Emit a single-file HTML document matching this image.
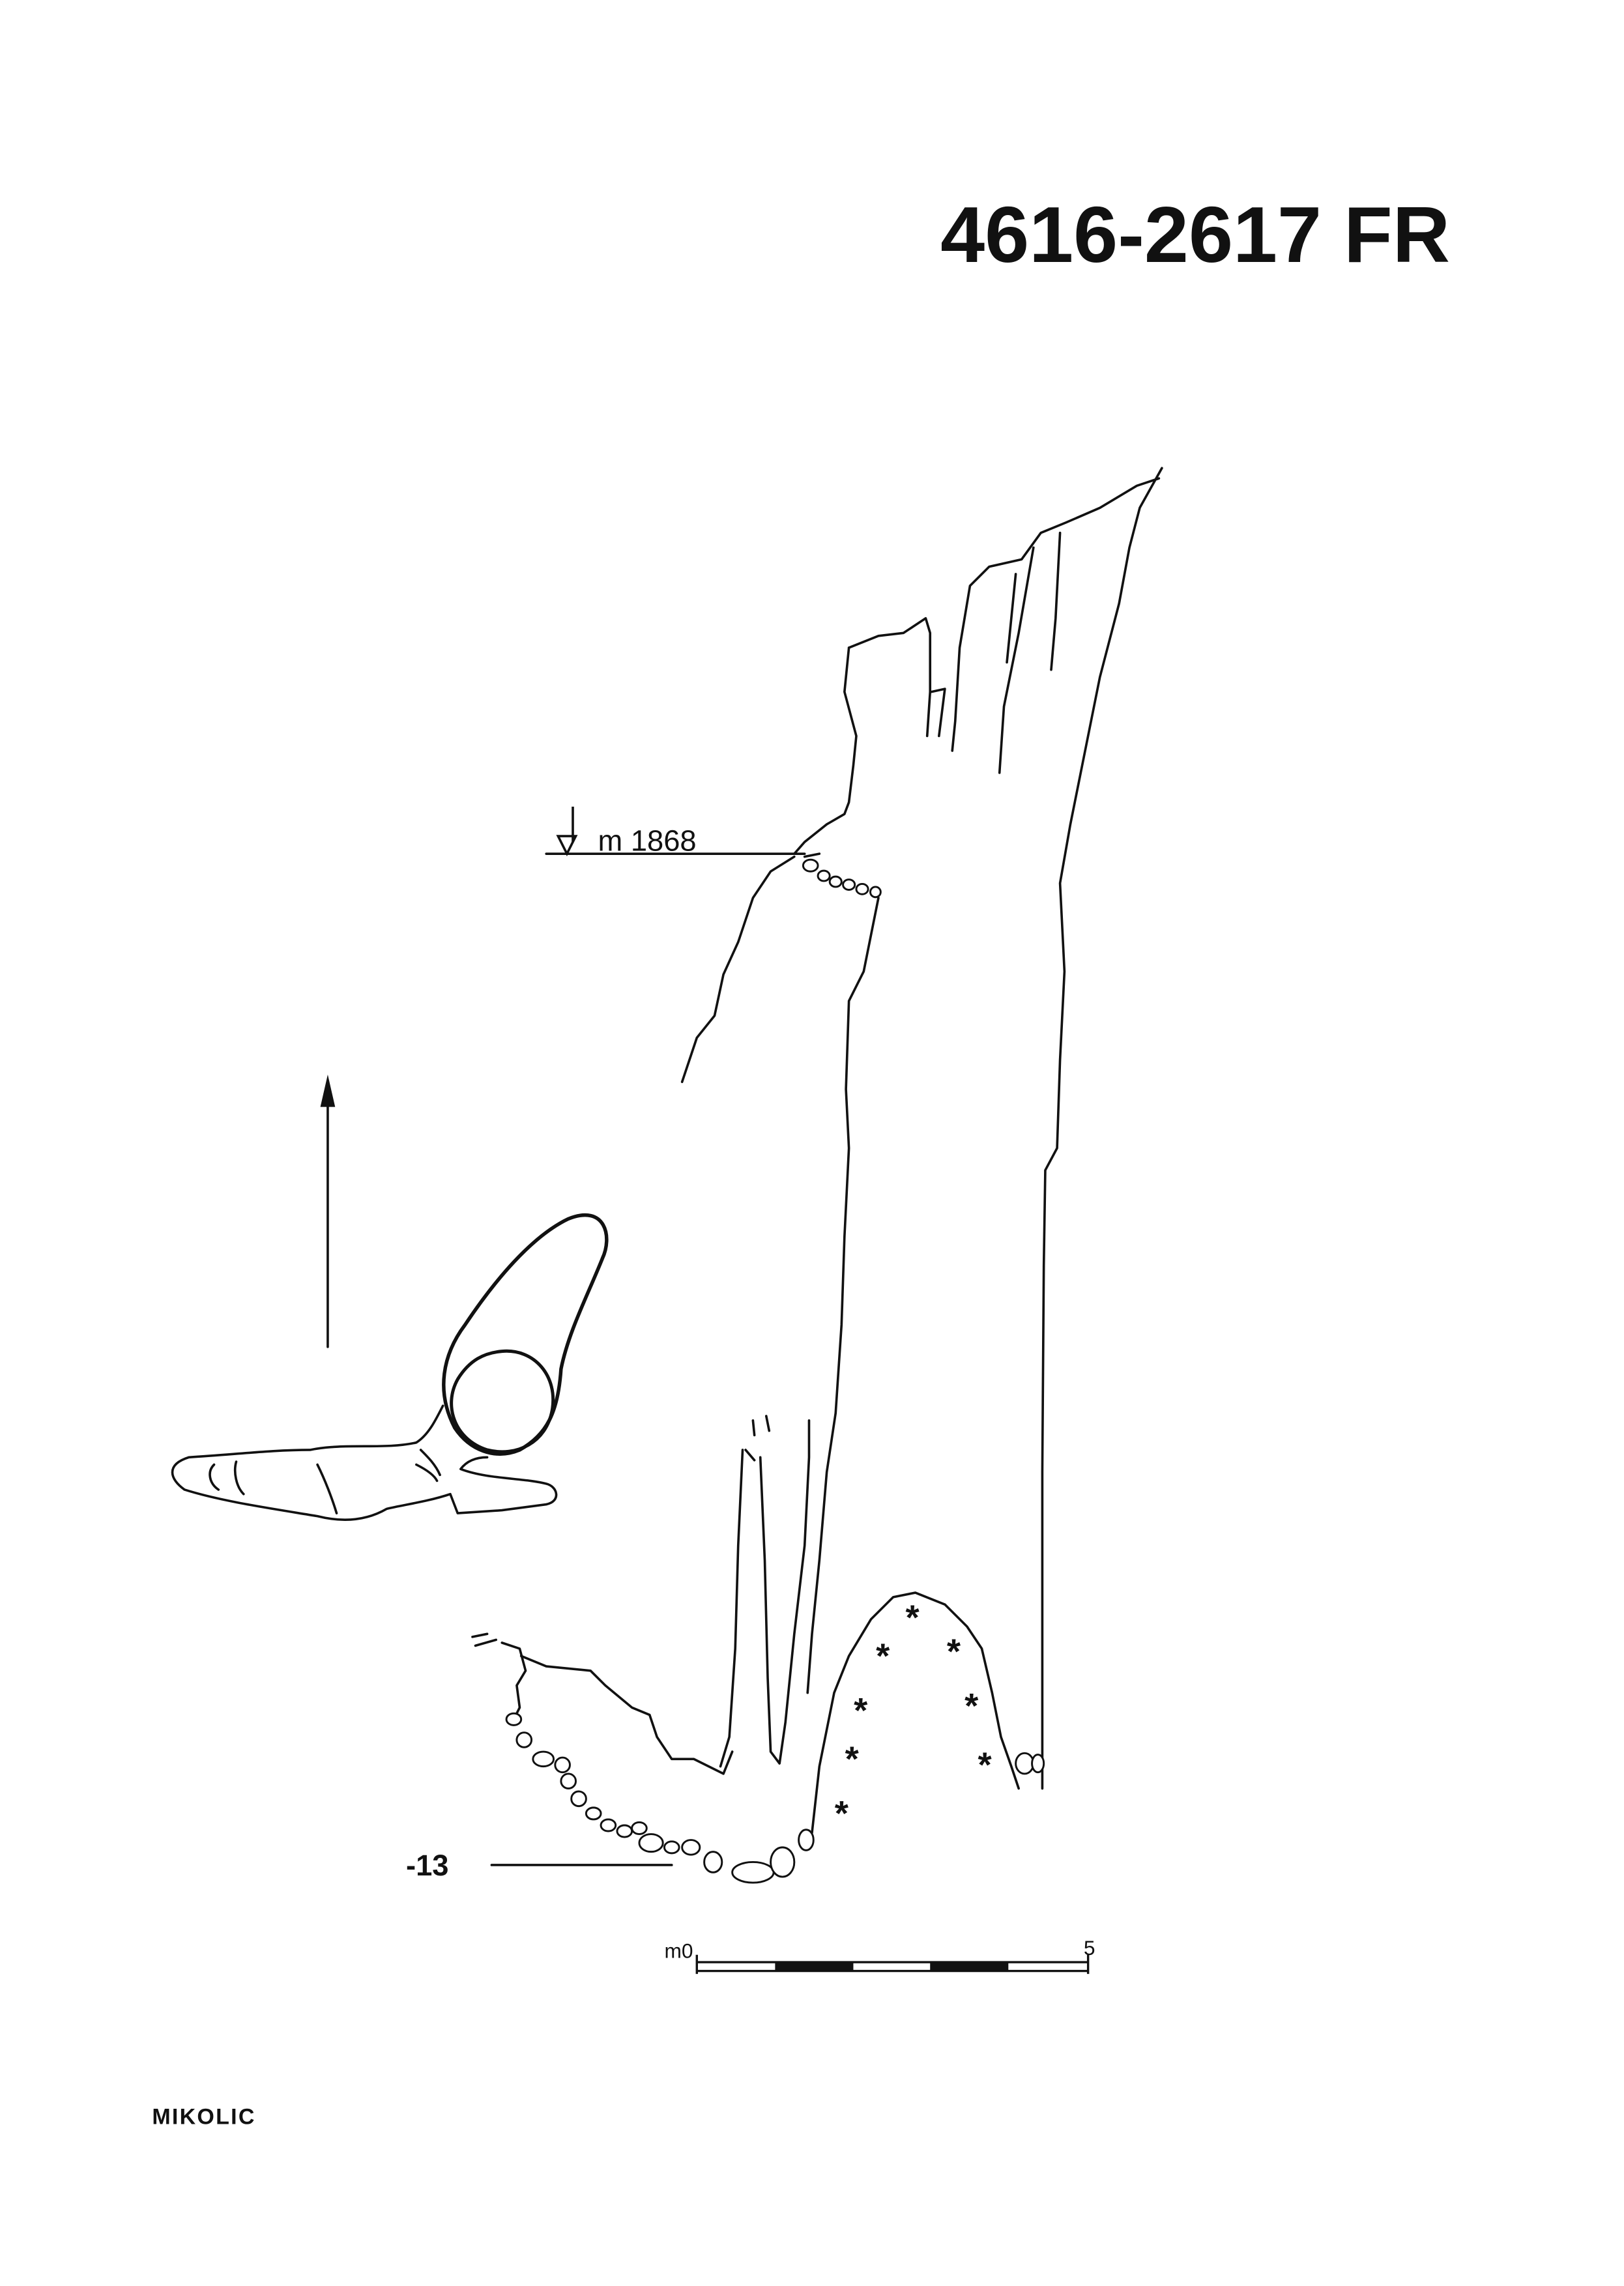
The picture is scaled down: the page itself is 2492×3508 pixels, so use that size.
<!DOCTYPE html>
<html><head><meta charset="utf-8"><style>
html,body{margin:0;padding:0;background:#fff;}
svg{display:block;}
</style></head><body>
<svg width="2492" height="3508" viewBox="0 0 1100 1553" preserveAspectRatio="none" xmlns="http://www.w3.org/2000/svg">
<rect width="1100" height="1553" fill="#fff"/>
<text x="637" y="178" font-family="Liberation Sans, sans-serif" font-weight="bold" font-size="54" fill="#111">4616-2617 FR</text>
<g fill="none" stroke="#111" stroke-width="1.6" stroke-linejoin="round" stroke-linecap="round">
<!-- top jagged -->
<path d="M787,318 L772,345 L765,372 L758,410 L745,460 L735,510 L725,560 L718,600 L721,660 L718,720 L716,780 L708,795 L707,860 L706,1000 L706,1215"/>
<path d="M785,325 L770,330 L745,345 L722,355 L705,362 L692,380 L670,385 L657,398 L650,440 L647,490 L645,510"/>
<path d="M718,362 L715,420 L712,455"/>
<path d="M700,372 L690,430 L680,480 L677,525"/>
<path d="M688,390 L682,450"/>
<path d="M575,440 L595,432 L612,430 L627,420 L630,430 L630,470 L628,500"/>
<path d="M631,470 L640,468 L636,500"/>
<path d="M575,440 L572,470 L580,500 L578,520 L575,545 L572,553 L560,560 L545,572 L538,580"/>
<!-- left wall of shaft -->
<path d="M538,582 L522,592 L510,610 L500,640 L490,662 L484,690 L472,705 L462,735"/>
<!-- middle wall -->
<path d="M595,610 L590,635 L585,660 L575,680 L573,740 L575,780 L572,840 L570,900 L566,960 L560,1000 L555,1060 L550,1110 L547,1150"/>
<!-- stalactites -->
<path d="M510,965 L511,975"/><path d="M519,962 L521,972"/>
<path d="M503,985 L500,1050 L498,1120 L494,1180 L488,1200"/>
<path d="M515,990 L518,1060 L520,1140 L522,1190 L528,1198 L532,1170 L538,1110 L545,1050 L548,990 L548,965"/>
<path d="M505,985 L511,992"/>
<!-- floor left -->
<path d="M320,1112 L330,1110"/><path d="M322,1118 L336,1114"/>
<path d="M340,1116 L352,1120 L356,1135 L350,1145 L352,1160 L348,1168"/>
<path d="M353,1125 L370,1132 L400,1135 L410,1145 L428,1160 L440,1165 L445,1180 L455,1195 L470,1195 L490,1205 L496,1190"/>
<!-- right boulder wall -->
<path d="M550,1245 L555,1200 L565,1150 L575,1125 L590,1100 L605,1085 L620,1082 L640,1090 L655,1105 L665,1120 L672,1150 L678,1180 L685,1200 L690,1215"/>
<path d="M545,582 L555,580"/>
<!-- marker lines -->
<path d="M370,580 L545,580"/>
<path d="M333,1267 L455,1267"/>
<!-- north arrow -->
<path d="M222,915 L222,745"/>
<!-- plan -->
<path d="M308,970 C295,945 300,920 315,900 C335,870 360,840 385,828 C410,818 415,840 408,855 C398,880 385,905 380,930 C378,960 370,975 352,985 C335,992 318,985 308,970 Z" stroke-width="2.4"/>
<path d="M340,918 C362,916 378,935 374,958 C370,980 350,990 330,985 C308,978 300,955 310,937 C318,924 328,919 340,918 Z" stroke-width="2.2"/>
<path d="M300,955 C295,965 290,975 282,980 C260,985 235,980 210,985 C185,985 160,988 128,990 C112,995 115,1005 125,1012 C150,1020 185,1025 215,1030 C235,1035 250,1032 262,1025 C275,1022 290,1020 305,1015 L310,1028 L340,1026 L370,1022 C380,1020 378,1010 370,1008 C355,1004 330,1005 312,998 C315,994 320,990 330,990"/>
<path d="M145,995 C140,1000 142,1008 148,1012"/><path d="M160,993 C158,1000 160,1010 165,1015"/>
<path d="M215,995 C220,1005 225,1018 228,1028"/><path d="M285,985 C290,990 295,995 298,1002"/><path d="M282,995 C288,998 294,1002 296,1006"/>
</g>
<polygon points="222,730 217,752 227,752" fill="#111"/>
<!-- boulders -->
<g fill="#fff" stroke="#111" stroke-width="1.3">
<ellipse cx="549" cy="588" rx="5" ry="4"/><ellipse cx="558" cy="595" rx="4" ry="3.5"/><ellipse cx="566" cy="599" rx="4" ry="3.5"/><ellipse cx="575" cy="601" rx="4" ry="3.5"/><ellipse cx="584" cy="604" rx="4" ry="3.5"/><ellipse cx="593" cy="606" rx="3.5" ry="3.5"/>
<ellipse cx="348" cy="1168" rx="5" ry="4"/><ellipse cx="355" cy="1182" rx="5" ry="5"/><ellipse cx="368" cy="1195" rx="7" ry="5"/><ellipse cx="381" cy="1199" rx="5" ry="5"/><ellipse cx="385" cy="1210" rx="5" ry="5"/><ellipse cx="392" cy="1222" rx="5" ry="5"/><ellipse cx="402" cy="1232" rx="5" ry="4"/><ellipse cx="412" cy="1240" rx="5" ry="4"/><ellipse cx="423" cy="1244" rx="5" ry="4"/><ellipse cx="433" cy="1242" rx="5" ry="4"/><ellipse cx="441" cy="1252" rx="8" ry="6"/><ellipse cx="455" cy="1255" rx="5" ry="4"/><ellipse cx="468" cy="1255" rx="6" ry="5"/><ellipse cx="483" cy="1265" rx="6" ry="7"/><ellipse cx="510" cy="1272" rx="14" ry="7"/><ellipse cx="530" cy="1265" rx="8" ry="10"/><ellipse cx="546" cy="1250" rx="5" ry="7"/><ellipse cx="694" cy="1198" rx="6" ry="7"/><ellipse cx="703" cy="1198" rx="4" ry="6"/>
</g>
<g font-family="Liberation Sans, sans-serif" font-weight="bold" font-size="24" fill="#111" text-anchor="middle">
<text x="618" y="1107">*</text><text x="646" y="1130">*</text><text x="598" y="1133">*</text><text x="583" y="1170">*</text><text x="658" y="1167">*</text><text x="577" y="1203">*</text><text x="667" y="1207">*</text><text x="570" y="1240">*</text>
</g>
<!-- m1868 -->
<path d="M378,568 L390,568 L384,580 Z" fill="none" stroke="#111" stroke-width="1.6"/>
<path d="M388,548 L388,572" stroke="#111" stroke-width="1.6"/>
<text x="405" y="578" font-family="Liberation Sans, sans-serif" font-size="20" fill="#111">m 1868</text>
<text x="275" y="1274" font-family="Liberation Sans, sans-serif" font-weight="bold" font-size="20" fill="#111">-13</text>
<!-- scale -->
<g stroke="#111" stroke-width="1.5" fill="none">
<path d="M472,1333 L737,1333 M472,1339 L737,1339 M472,1328 L472,1341 M737,1328 L737,1341"/>
</g>
<rect x="525" y="1333" width="53" height="6" fill="#111"/><rect x="630" y="1333" width="53" height="6" fill="#111"/>
<text x="450" y="1330" font-family="Liberation Sans, sans-serif" font-size="14" fill="#111">m0</text>
<text x="734" y="1328" font-family="Liberation Sans, sans-serif" font-size="14" fill="#111">5</text>
<text x="103" y="1443" font-family="Liberation Sans, sans-serif" font-weight="bold" font-size="15" fill="#111" letter-spacing="1">MIKOLIC</text>
</svg>
</body></html>
